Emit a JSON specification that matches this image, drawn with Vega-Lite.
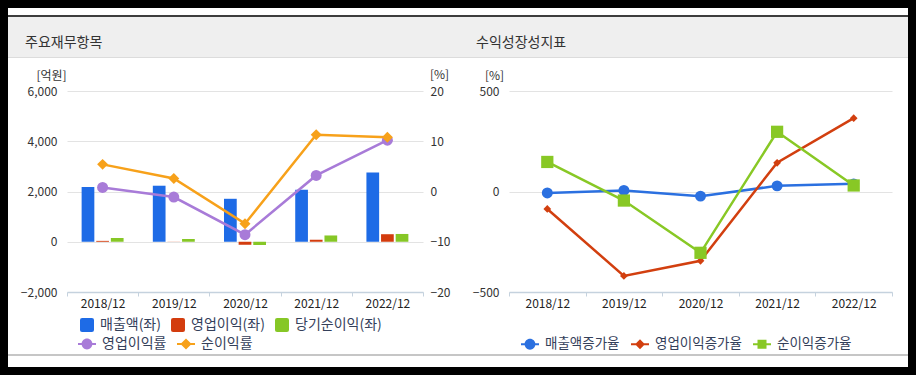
{
  "$schema": "https://vega.github.io/schema/vega-lite/v6.json",
  "background": "#000000",
  "padding": 8,
  "spacing": 0,
  "config": {
    "font": "Noto Sans CJK KR",
    "concat": {"spacing": 0},
    "view": {"stroke": null},
    "axis": {"labelFont": "Noto Sans CJK KR", "labelFontSize": 12, "labelColor": "#333333", "domain": false, "ticks": false, "grid": false, "titleFont": "Noto Sans CJK KR", "titleFontWeight": "normal", "titleFontSize": 12, "titleColor": "#333333"},
    "legend": {"orient": "none", "direction": "horizontal", "labelFont": "Noto Sans CJK KR", "labelFontSize": 14, "labelColor": "#34405a", "padding": 0, "columnPadding": 10, "labelOffset": 6, "title": null},
    "title": {"font": "Noto Sans CJK KR", "fontSize": 14, "fontWeight": "normal", "color": "#333333"}
  },
  "resolve": {"scale": {"color": "independent", "shape": "independent", "size": "independent"}, "legend": {"color": "independent", "shape": "independent", "size": "independent"}},
  "datasets": {
    "bars": [
      {"year": "2018/12", "series": "매출액(좌)", "value": 2180},
      {"year": "2018/12", "series": "영업이익(좌)", "value": 35},
      {"year": "2018/12", "series": "당기순이익(좌)", "value": 150},
      {"year": "2019/12", "series": "매출액(좌)", "value": 2230},
      {"year": "2019/12", "series": "영업이익(좌)", "value": 5},
      {"year": "2019/12", "series": "당기순이익(좌)", "value": 110},
      {"year": "2020/12", "series": "매출액(좌)", "value": 1710},
      {"year": "2020/12", "series": "영업이익(좌)", "value": -120},
      {"year": "2020/12", "series": "당기순이익(좌)", "value": -130},
      {"year": "2021/12", "series": "매출액(좌)", "value": 2070},
      {"year": "2021/12", "series": "영업이익(좌)", "value": 80},
      {"year": "2021/12", "series": "당기순이익(좌)", "value": 250},
      {"year": "2022/12", "series": "매출액(좌)", "value": 2760},
      {"year": "2022/12", "series": "영업이익(좌)", "value": 300},
      {"year": "2022/12", "series": "당기순이익(좌)", "value": 310}
    ],
    "rates": [
      {"year": "2018/12", "series": "영업이익률", "value": 0.8},
      {"year": "2019/12", "series": "영업이익률", "value": -1.1},
      {"year": "2020/12", "series": "영업이익률", "value": -8.6},
      {"year": "2021/12", "series": "영업이익률", "value": 3.2},
      {"year": "2022/12", "series": "영업이익률", "value": 10.2},
      {"year": "2018/12", "series": "순이익률", "value": 5.4},
      {"year": "2019/12", "series": "순이익률", "value": 2.6},
      {"year": "2020/12", "series": "순이익률", "value": -6.4},
      {"year": "2021/12", "series": "순이익률", "value": 11.3},
      {"year": "2022/12", "series": "순이익률", "value": 10.8}
    ],
    "growth": [
      {"year": "2018/12", "series": "매출액증가율", "value": -7},
      {"year": "2019/12", "series": "매출액증가율", "value": 5},
      {"year": "2020/12", "series": "매출액증가율", "value": -23},
      {"year": "2021/12", "series": "매출액증가율", "value": 28},
      {"year": "2022/12", "series": "매출액증가율", "value": 38},
      {"year": "2018/12", "series": "영업이익증가율", "value": -87},
      {"year": "2019/12", "series": "영업이익증가율", "value": -420},
      {"year": "2020/12", "series": "영업이익증가율", "value": -345},
      {"year": "2021/12", "series": "영업이익증가율", "value": 143},
      {"year": "2022/12", "series": "영업이익증가율", "value": 365},
      {"year": "2018/12", "series": "순이익증가율", "value": 147},
      {"year": "2019/12", "series": "순이익증가율", "value": -45},
      {"year": "2020/12", "series": "순이익증가율", "value": -305},
      {"year": "2021/12", "series": "순이익증가율", "value": 297},
      {"year": "2022/12", "series": "순이익증가율", "value": 30}
    ]
  },
  "hconcat": [
    {
      "spacing": 0,
      "resolve": {"scale": {"color": "independent", "shape": "independent", "size": "independent"}, "legend": {"color": "independent", "shape": "independent", "size": "independent"}},
      "vconcat": [
        {"width": 450, "height": 7, "view": {"fill": "#ffffff", "stroke": null}, "data": {"values": [{}]}, "mark": {"type": "text", "text": "", "fontSize": 0}},
        {"width": 450, "height": 2, "view": {"fill": "#3d3d3d", "stroke": null}, "data": {"values": [{}]}, "mark": {"type": "text", "text": "", "fontSize": 0}},
        {"width": 450, "height": 40, "view": {"fill": "#efefef", "stroke": null}, "data": {"values": [{}]}, "mark": {"type": "text", "text": "", "fontSize": 0},
         "title": {"text": "주요재무항목", "anchor": "start", "frame": "group", "offset": -40, "baseline": "middle", "dx": 17}},
        {"width": 450, "height": 1, "view": {"fill": "#dcdcdc", "stroke": null}, "data": {"values": [{}]}, "mark": {"type": "text", "text": "", "fontSize": 0}},
        {
          "width": 450, "height": 296,
          "view": {"fill": "#ffffff", "stroke": null},
          "layer": [
            {
              "data": {"name": "bars"},
              "mark": {"type": "bar"},
              "encoding": {
                "x": {"field": "year", "type": "nominal", "title": null,
                      "scale": {"range": [59, 415], "paddingInner": 0, "paddingOuter": 0},
                      "axis": {"orient": "bottom", "offset": -62, "labelAngle": 0, "domain": true, "domainColor": "#c5d2de", "domainWidth": 1.5, "ticks": true, "tickColor": "#c5d2de", "tickSize": 4, "tickBand": "extent", "labelPadding": 2, "labelColor": "#222222"}},
                "xOffset": {"field": "series", "type": "nominal", "sort": ["매출액(좌)", "영업이익(좌)", "당기순이익(좌)"],
                            "scale": {"domain": ["매출액(좌)", "영업이익(좌)", "당기순이익(좌)"], "paddingInner": 0.13, "paddingOuter": 1.07}},
                "y": {"field": "value", "type": "quantitative", "title": "[억원]",
                      "scale": {"domain": [-2000, 6000], "range": [234, 33], "nice": false, "zero": false},
                      "axis": {"orient": "left", "offset": -59, "values": [-2000, 0, 2000, 4000, 6000], "labelExpr": "format(datum.value, ',')", "grid": true, "gridColor": "#e3e3e3", "labelPadding": 10, "titleAngle": 0, "titleX": -16, "titleY": 17, "titleAlign": "center", "titleBaseline": "middle"}},
                "color": {"field": "series", "type": "nominal",
                          "scale": {"domain": ["매출액(좌)", "영업이익(좌)", "당기순이익(좌)"], "range": ["#1e6be6", "#d33c0e", "#86c726"]},
                          "legend": {"legendX": 72, "legendY": 260, "symbolType": "M-0.7,-1H0.7Q1,-1 1,-0.7V0.7Q1,1 0.7,1H-0.7Q-1,1 -1,0.7V-0.7Q-1,-1 -0.7,-1Z", "symbolSize": 196, "symbolStrokeWidth": 0}}
              }
            },
            {
              "data": {"name": "rates"},
              "encoding": {
                "x": {"field": "year", "type": "nominal"},
                "y": {"field": "value", "type": "quantitative", "title": "[%]",
                      "scale": {"domain": [-20, 20], "range": [234, 33], "nice": false, "zero": false},
                      "axis": {"orient": "right", "offset": -35, "values": [-20, -10, 0, 10, 20], "labelPadding": 7, "titleAngle": 0, "titleX": 16, "titleY": 16, "titleAlign": "center", "titleBaseline": "middle"}},
                "color": {"field": "series", "type": "nominal",
                          "scale": {"domain": ["영업이익률", "순이익률"], "range": ["#a87bd8", "#f7a11a"]},
                          "legend": {"legendX": 70, "legendY": 277, "symbolSize": 324, "columnPadding": 10,
                            "encode": {"symbols": {"update": {"strokeWidth": {"value": 0}, "shape": {"signal": "datum.value === '순이익률' ? 'M-1,-0.1H1V0.1H-1Z M0,-0.62L0.62,0L0,0.62L-0.62,0Z' : 'M-1,-0.1H1V0.1H-1Z M0.6,0A0.6,0.6 0 1,1 -0.6,0A0.6,0.6 0 1,1 0.6,0Z'"}}}}}}
              },
              "layer": [
                {"mark": {"type": "line", "strokeWidth": 2.5}},
                {"mark": {"type": "point", "filled": true, "size": 120, "opacity": 1},
                 "encoding": {"shape": {"field": "series", "type": "nominal", "scale": {"domain": ["영업이익률", "순이익률"], "range": ["circle", "diamond"]}, "legend": null}}}
              ]
            }
          ],
          "resolve": {"scale": {"y": "independent", "color": "independent"}}
        },
        {"width": 450, "height": 2, "view": {"fill": "#c6c6c6", "stroke": null}, "data": {"values": [{}]}, "mark": {"type": "text", "text": "", "fontSize": 0}},
        {"width": 450, "height": 11, "view": {"fill": "#ffffff", "stroke": null}, "data": {"values": [{}]}, "mark": {"type": "text", "text": "", "fontSize": 0}}
      ]
    },
    {
      "spacing": 0,
      "resolve": {"scale": {"color": "independent", "shape": "independent", "size": "independent"}, "legend": {"color": "independent", "shape": "independent", "size": "independent"}},
      "vconcat": [
        {"width": 450, "height": 7, "view": {"fill": "#ffffff", "stroke": null}, "data": {"values": [{}]}, "mark": {"type": "text", "text": "", "fontSize": 0}},
        {"width": 450, "height": 2, "view": {"fill": "#3d3d3d", "stroke": null}, "data": {"values": [{}]}, "mark": {"type": "text", "text": "", "fontSize": 0}},
        {"width": 450, "height": 40, "view": {"fill": "#efefef", "stroke": null}, "data": {"values": [{}]}, "mark": {"type": "text", "text": "", "fontSize": 0},
         "title": {"text": "수익성장성지표", "anchor": "start", "frame": "group", "offset": -40, "baseline": "middle", "dx": 18}},
        {"width": 450, "height": 1, "view": {"fill": "#dcdcdc", "stroke": null}, "data": {"values": [{}]}, "mark": {"type": "text", "text": "", "fontSize": 0}},
        {
          "width": 450, "height": 296,
          "view": {"fill": "#ffffff", "stroke": null},
          "data": {"name": "growth"},
          "encoding": {
            "x": {"field": "year", "type": "nominal", "title": null,
                  "scale": {"range": [51, 434], "paddingInner": 0, "paddingOuter": 0},
                  "axis": {"orient": "bottom", "offset": -62, "labelAngle": 0, "domain": true, "domainColor": "#c5d2de", "domainWidth": 1.5, "ticks": true, "tickColor": "#c5d2de", "tickSize": 4, "tickBand": "extent", "labelPadding": 2, "labelColor": "#222222"}},
            "y": {"field": "value", "type": "quantitative", "title": "[%]",
                  "scale": {"domain": [-500, 500], "range": [234, 33], "nice": false, "zero": false},
                  "axis": {"orient": "left", "offset": -51, "values": [-500, 0, 500], "grid": true, "gridColor": "#e3e3e3", "labelPadding": 10, "titleAngle": 0, "titleX": -15, "titleY": 17, "titleAlign": "center", "titleBaseline": "middle"}},
            "color": {"field": "series", "type": "nominal",
                      "scale": {"domain": ["매출액증가율", "영업이익증가율", "순이익증가율"], "range": ["#2b70e0", "#d23f0f", "#88c825"]},
                      "legend": {"legendX": 63, "legendY": 277, "symbolSize": 324, "labelFontSize": 13.5, "columnPadding": 11,
                        "encode": {"symbols": {"update": {"strokeWidth": {"value": 0}, "shape": {"signal": "datum.value === '영업이익증가율' ? 'M-1,-0.1H1V0.1H-1Z M0,-0.55L0.55,0L0,0.55L-0.55,0Z' : datum.value === '순이익증가율' ? 'M-1,-0.1H1V0.1H-1Z M-0.5,-0.5H0.5V0.5H-0.5Z' : 'M-1,-0.1H1V0.1H-1Z M0.6,0A0.6,0.6 0 1,1 -0.6,0A0.6,0.6 0 1,1 0.6,0Z'"}}}}}}
          },
          "layer": [
            {"mark": {"type": "line", "strokeWidth": 2.5}},
            {"transform": [{"filter": "datum.series === '매출액증가율'"}], "mark": {"type": "point", "filled": true, "opacity": 1, "shape": "circle", "size": 120}},
            {"transform": [{"filter": "datum.series === '영업이익증가율'"}], "mark": {"type": "point", "filled": true, "opacity": 1, "shape": "diamond", "size": 60}},
            {"transform": [{"filter": "datum.series === '순이익증가율'"}], "mark": {"type": "point", "filled": true, "opacity": 1, "shape": "square", "size": 150}}
          ]
        },
        {"width": 450, "height": 2, "view": {"fill": "#c6c6c6", "stroke": null}, "data": {"values": [{}]}, "mark": {"type": "text", "text": "", "fontSize": 0}},
        {"width": 450, "height": 11, "view": {"fill": "#ffffff", "stroke": null}, "data": {"values": [{}]}, "mark": {"type": "text", "text": "", "fontSize": 0}}
      ]
    }
  ]
}
